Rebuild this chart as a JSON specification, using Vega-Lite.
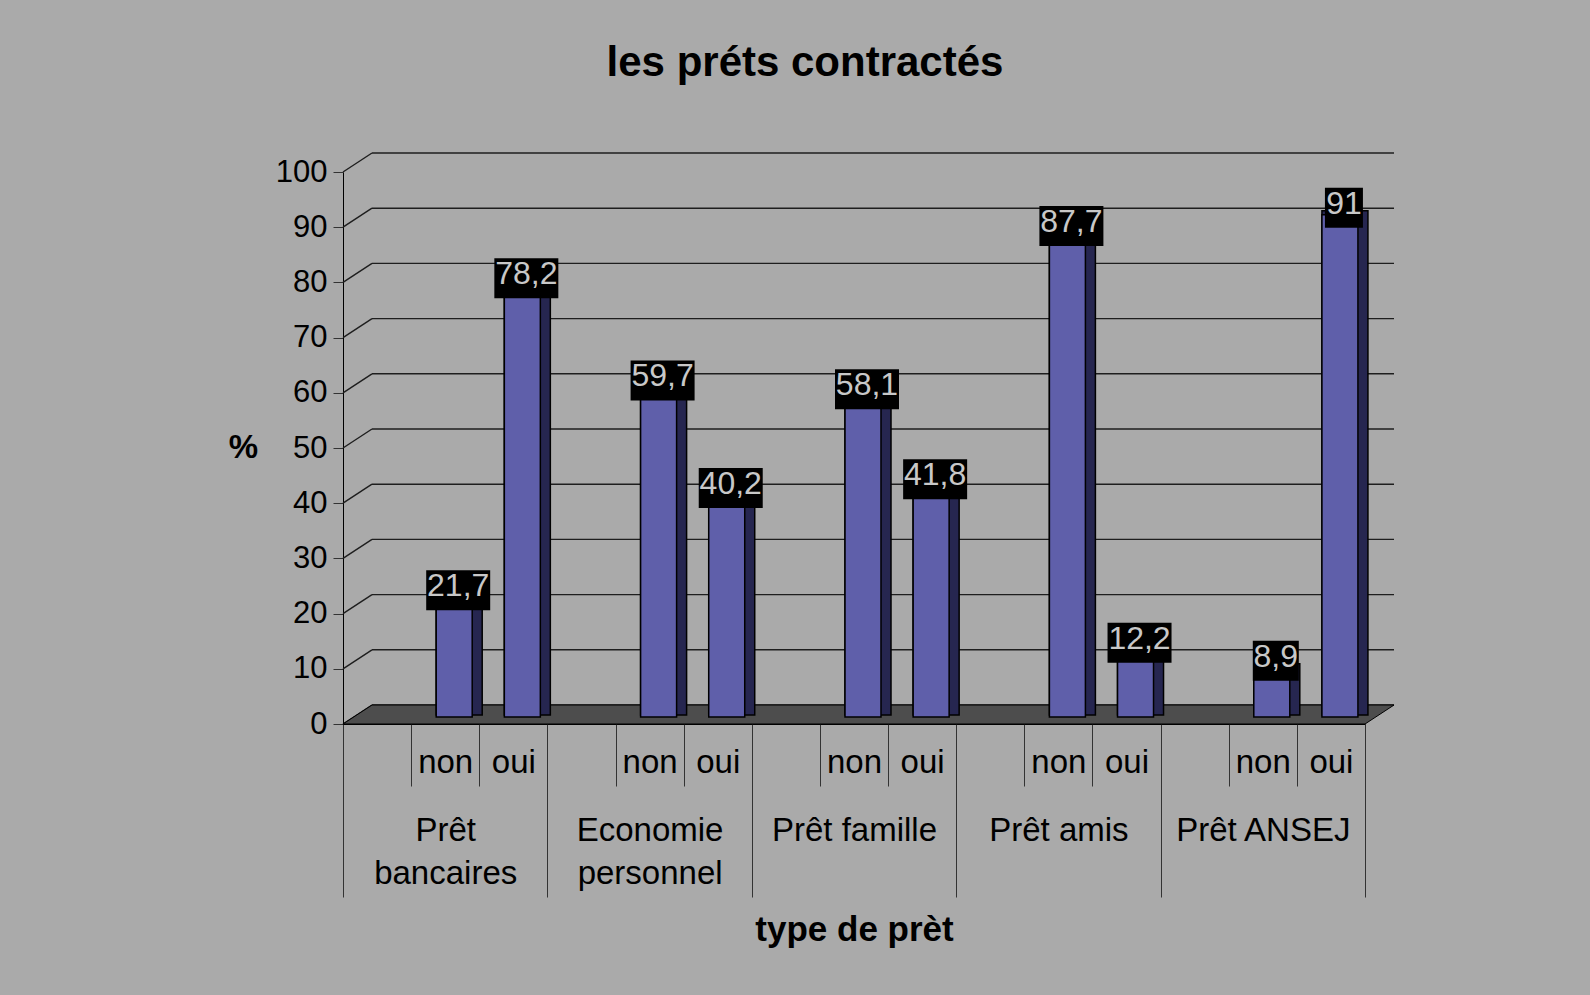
{
  "$schema": "https://vega.github.io/schema/vega-lite/v6.json",
  "width": 1022,
  "height": 552,
  "autosize": {"type": "none"},
  "padding": {"left": 343, "top": 172, "right": 225, "bottom": 271},
  "background": "#AAAAAA",
  "title": {
    "text": "les préts contractés",
    "fontSize": 42,
    "fontWeight": "bold",
    "color": "black",
    "anchor": "middle",
    "frame": "group",
    "dx": -49,
    "baseline": "alphabetic",
    "offset": 34
  },
  "datasets": {
    "prets": [
      {"type": "Prêt bancaires", "reponse": "non", "pct": 21.7},
      {"type": "Prêt bancaires", "reponse": "oui", "pct": 78.2},
      {"type": "Economie personnel", "reponse": "non", "pct": 59.7},
      {"type": "Economie personnel", "reponse": "oui", "pct": 40.2},
      {"type": "Prêt famille", "reponse": "non", "pct": 58.1},
      {"type": "Prêt famille", "reponse": "oui", "pct": 41.8},
      {"type": "Prêt amis", "reponse": "non", "pct": 87.7},
      {"type": "Prêt amis", "reponse": "oui", "pct": 12.2},
      {"type": "Prêt ANSEJ", "reponse": "non", "pct": 8.9},
      {"type": "Prêt ANSEJ", "reponse": "oui", "pct": 91}
    ],
    "grille": [
      {"v": 0}, {"v": 10}, {"v": 20}, {"v": 30}, {"v": 40}, {"v": 50},
      {"v": 60}, {"v": 70}, {"v": 80}, {"v": 90}, {"v": 100}
    ]
  },
  "resolve": {"scale": {"x": "independent"}, "axis": {"x": "independent"}},
  "layer": [
    {
      "data": {"name": "grille"},
      "layer": [
        {
          "mark": {"type": "rule", "color": "#1E1E1E", "strokeWidth": 1.4, "xOffset": 29, "x2Offset": 29, "yOffset": -19},
          "encoding": {
            "x": {"datum": 0, "type": "quantitative", "scale": {"domain": [0, 1]}, "axis": null},
            "x2": {"datum": 1},
            "y": {
              "field": "v",
              "type": "quantitative",
              "scale": {"domain": [0, 100], "nice": false},
              "axis": {
                "values": [0, 10, 20, 30, 40, 50, 60, 70, 80, 90, 100],
                "grid": false,
                "tickSize": 10,
                "tickColor": "#333333",
                "domainColor": "black",
                "labelFontSize": 31,
                "labelColor": "black",
                "labelPadding": 6,
                "title": "%",
                "titleAngle": 0,
                "titleFontSize": 33,
                "titleFontWeight": "bold",
                "titleColor": "black",
                "titleX": -100,
                "titleY": 275,
                "titleAlign": "center",
                "titleBaseline": "middle"
              }
            }
          }
        },
        {
          "mark": {"type": "rule", "color": "#1E1E1E", "strokeWidth": 1.4, "x2Offset": 29, "y2Offset": -19},
          "encoding": {
            "x": {"datum": 0, "type": "quantitative"},
            "x2": {"datum": 0},
            "y": {"field": "v", "type": "quantitative"},
            "y2": {"field": "v"}
          }
        },
        {
          "transform": [{"filter": "datum.v == 0"}],
          "mark": {
            "type": "point",
            "shape": "M-0.9642,0L0.9642,0L1.0189,-0.0358L-0.9094,-0.0358Z",
            "size": 1123600,
            "filled": true,
            "fill": "#4D4D4D",
            "stroke": "black",
            "strokeWidth": 1,
            "opacity": 1
          },
          "encoding": {
            "x": {"datum": 0.5, "type": "quantitative"},
            "y": {"field": "v", "type": "quantitative"}
          }
        }
      ]
    },
    {
      "data": {"name": "prets"},
      "encoding": {
        "x": {
          "field": "type",
          "type": "nominal",
          "sort": null,
          "scale": {
            "domain": ["Prêt bancaires", "Economie personnel", "Prêt famille", "Prêt amis", "Prêt ANSEJ"],
            "paddingInner": 0,
            "paddingOuter": 0
          },
          "axis": {
            "orient": "bottom",
            "title": "type de prèt",
            "titleFontSize": 35,
            "titleFontWeight": "bold",
            "titleColor": "black",
            "titleX": 511,
            "titleY": 216,
            "titleBaseline": "alphabetic",
            "tickBand": "extent",
            "tickSize": 173,
            "tickColor": "#333333",
            "tickWidth": 1,
            "domainColor": "black",
            "domainWidth": 1,
            "labelAngle": 0,
            "labelFontSize": 33,
            "labelColor": "black",
            "labelBaseline": "alphabetic",
            "labelPadding": -57,
            "labelLineHeight": 43,
            "labelLimit": 0,
            "labelExpr": "datum.value == 'Prêt bancaires' ? ['Prêt', 'bancaires'] : datum.value == 'Economie personnel' ? ['Economie', 'personnel'] : datum.value"
          }
        },
        "y": {
          "field": "pct",
          "type": "quantitative",
          "scale": {"domain": [0, 100], "nice": false},
          "axis": {
            "values": [0, 10, 20, 30, 40, 50, 60, 70, 80, 90, 100],
            "grid": false,
            "tickSize": 10,
            "tickColor": "#333333",
            "domainColor": "black",
            "labelFontSize": 31,
            "labelColor": "black",
            "labelPadding": 6,
            "title": "%",
            "titleAngle": 0,
            "titleFontSize": 33,
            "titleFontWeight": "bold",
            "titleColor": "black",
            "titleX": -100,
            "titleY": 275,
            "titleAlign": "center",
            "titleBaseline": "middle"
          }
        }
      },
      "resolve": {"scale": {"xOffset": "independent"}},
      "layer": [
        {
          "mark": {"type": "bar", "width": 46, "fill": "#262650", "stroke": "black", "strokeWidth": 1.5, "yOffset": -11, "y2Offset": -9},
          "encoding": {
            "xOffset": {"field": "reponse", "scale": {"domain": ["", "non", "oui"], "range": [14, 218.4], "paddingInner": 0, "paddingOuter": 0}},
            "y2": {"datum": 0}
          }
        },
        {
          "mark": {"type": "bar", "width": 36, "fill": "#5F5FAA", "stroke": "black", "strokeWidth": 1.5, "yOffset": -7, "y2Offset": -7},
          "encoding": {
            "xOffset": {"field": "reponse", "scale": {"domain": ["", "non", "oui"], "range": [9, 213.4], "paddingInner": 0, "paddingOuter": 0}},
            "y2": {"datum": 0}
          }
        },
        {
          "mark": {"type": "bar", "fill": "black", "yOffset": -34, "y2Offset": 6},
          "encoding": {
            "xOffset": {"field": "reponse", "scale": {"domain": ["", "non", "oui"], "range": [13, 217.4], "paddingInner": 0, "paddingOuter": 0}},
            "y2": {"field": "pct"},
            "size": {"condition": [{"test": "datum.pct == 91", "value": 38}, {"test": "datum.pct == 8.9", "value": 46}], "value": 64}
          }
        },
        {
          "mark": {"type": "text", "fontSize": 32, "fill": "#C8C8C8", "align": "center", "baseline": "alphabetic", "yOffset": -8},
          "encoding": {
            "xOffset": {"field": "reponse", "scale": {"type": "point", "domain": ["", "non", "oui"], "range": [47.07, 183.33], "padding": 0}},
            "text": {"field": "pct", "type": "quantitative", "format": ".1~f"}
          }
        }
      ]
    },
    {
      "data": {"name": "prets"},
      "mark": {"type": "bar", "opacity": 0},
      "encoding": {
        "x": {
          "datum": "Prêt bancaires/",
          "type": "nominal",
          "scale": {
            "type": "band",
            "paddingInner": 0,
            "paddingOuter": 0,
            "domain": [
              "Prêt bancaires/", "Prêt bancaires/non", "Prêt bancaires/oui",
              "Economie personnel/", "Economie personnel/non", "Economie personnel/oui",
              "Prêt famille/", "Prêt famille/non", "Prêt famille/oui",
              "Prêt amis/", "Prêt amis/non", "Prêt amis/oui",
              "Prêt ANSEJ/", "Prêt ANSEJ/non", "Prêt ANSEJ/oui"
            ]
          },
          "axis": {
            "orient": "bottom",
            "title": null,
            "domain": false,
            "tickBand": "extent",
            "tickSize": 62,
            "tickColor": "#333333",
            "tickWidth": 1,
            "labelAngle": 0,
            "labelFontSize": 33,
            "labelColor": "black",
            "labelBaseline": "alphabetic",
            "labelPadding": -14,
            "labelExpr": "split(datum.value, '/')[1]"
          }
        }
      }
    }
  ],
  "config": {
    "font": "Liberation Sans",
    "view": {"stroke": null},
    "locale": {
      "number": {"decimal": ",", "thousands": " ", "grouping": [3], "currency": ["", " €"]}
    }
  }
}
